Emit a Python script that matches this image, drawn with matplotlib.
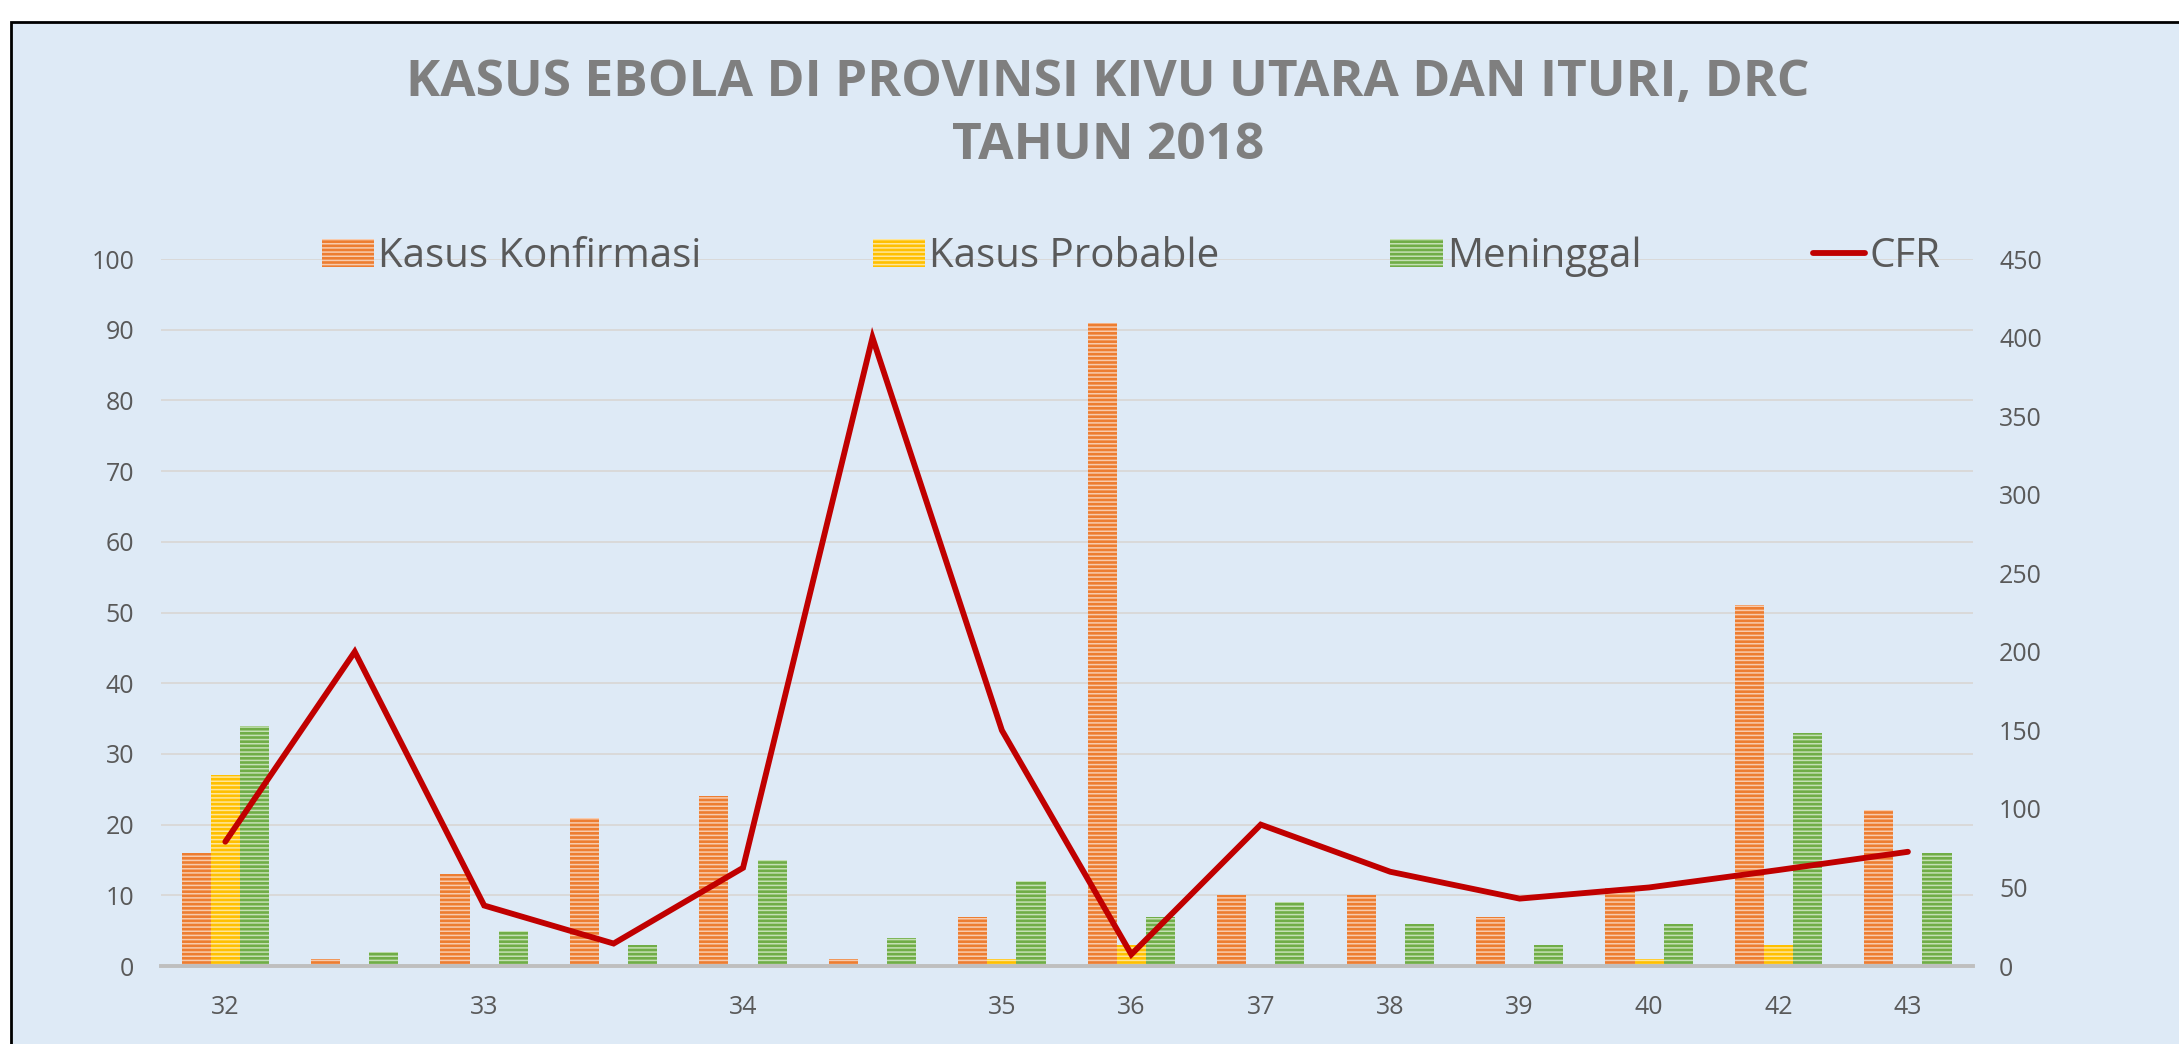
import numpy as np
import matplotlib
matplotlib.use("Agg")
import matplotlib.pyplot as plt
from matplotlib.patches import Rectangle

plt.rcParams['font.family'] = ['Open Sans', 'DejaVu Sans']
plt.rcParams['hatch.linewidth'] = 1.1

# data (epi week)
weeks = ['32', '', '33', '', '34', '', '35', '36', '37', '38', '39', '40', '42', '43']
konfirmasi = [16, 1, 13, 21, 24, 1, 7, 91, 10, 10, 7, 11, 51, 22]
probable = [27, 0, 0, 0, 0, 0, 1, 3, 0, 0, 0, 1, 3, 0]
meninggal = [34, 2, 5, 3, 15, 4, 12, 7, 9, 6, 3, 6, 33, 16]
cfr = [79.1, 200, 38.5, 14.3, 62.5, 400, 150, 7.4, 90, 60, 42.9, 50, 61.1, 72.7]

W, H = 2179, 1044
fig = plt.figure(figsize=(W / 100, H / 100), dpi=100, facecolor='white')

# chart area background with black frame
bg = Rectangle((11 / W, -0.05), 1.1, 1 - 22 / H + 0.05, transform=fig.transFigure,
               facecolor='#DEEAF6', edgecolor='black', linewidth=2, zorder=-10)
fig.patches.append(bg)

ax = fig.add_axes([0.0737, 0.0747, 0.8316, 0.6772])
ax.set_facecolor('none')
x = np.arange(len(weeks))
w = 0.225

b1 = ax.bar(x - w, konfirmasi, w, color='#ED7D31', edgecolor='#F8CBAD', linewidth=0,
            hatch='----', label='Kasus Konfirmasi')
b2 = ax.bar(x, probable, w, color='#FFC000', edgecolor='#FFE699', linewidth=0,
            hatch='----', label='Kasus Probable')
b3 = ax.bar(x + w, meninggal, w, color='#70AD47', edgecolor='#C5E0B4', linewidth=0,
            hatch='----', label='Meninggal')

ax.set_xlim(-0.5, len(weeks) - 0.5)
ax.set_ylim(0, 100)
ax.set_yticks(np.arange(0, 101, 10))
ax.set_xticks(x)
ax.set_xticklabels(weeks)
ax.yaxis.grid(True, color='#D9D9D9', linewidth=1.4)
ax.set_axisbelow(True)
for s in ['top', 'right', 'left']:
    ax.spines[s].set_visible(False)
ax.spines['bottom'].set_color('#BFBFBF')
ax.spines['bottom'].set_linewidth(2.8)
ax.tick_params(axis='y', length=0, pad=19, labelsize=18, labelcolor='#595959')
ax.tick_params(axis='x', length=0, pad=21, labelsize=18, labelcolor='#595959')

ax2 = ax.twinx()
line, = ax2.plot(x, cfr, color='#C00000', linewidth=4.2, solid_capstyle='round',
                 solid_joinstyle='miter', label='CFR')
ax2.set_ylim(0, 450)
ax2.set_yticks(np.arange(0, 451, 50))
for s in ['top', 'right', 'left', 'bottom']:
    ax2.spines[s].set_visible(False)
ax2.tick_params(axis='y', length=0, pad=19, labelsize=18, labelcolor='#595959')

fig.text(0.5085, 1 - 83 / H, 'KASUS EBOLA DI PROVINSI KIVU UTARA DAN ITURI, DRC',
         ha='center', va='center', fontsize=37, fontweight='bold', color='#7F7F7F')
fig.text(0.5085, 1 - 146 / H, 'TAHUN 2018',
         ha='center', va='center', fontsize=37, fontweight='bold', color='#7F7F7F')

leg = fig.legend([b1, b2, b3, line], ['Kasus Konfirmasi', 'Kasus Probable', 'Meninggal', 'CFR'],
                 loc='center', bbox_to_anchor=(0.519, 1 - 257 / H), ncol=4, frameon=False,
                 fontsize=29, handlelength=1.3, handleheight=0.67, handletextpad=0.1,
                 columnspacing=4.25)
for t in leg.get_texts():
    t.set_color('#595959')

fig.savefig('out.png', dpi=100, facecolor=fig.get_facecolor())
